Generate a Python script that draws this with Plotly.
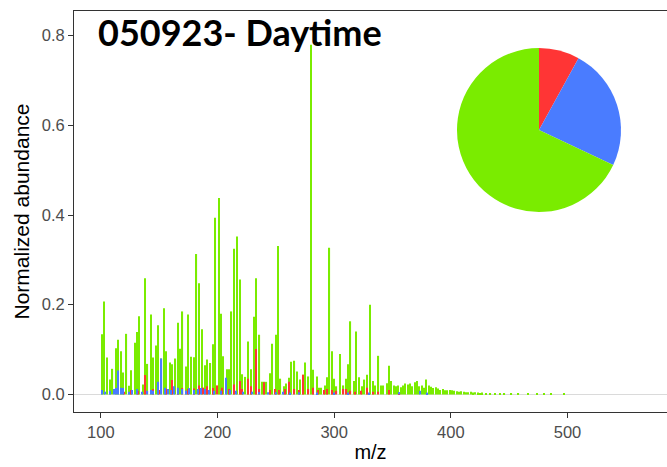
import plotly.graph_objects as go

# ---------------- data ----------------
mz_green = [101, 103, 105, 108, 110, 113, 115, 117, 119, 122, 124, 126, 129, 131, 133, 136, 138, 140,
            143, 145, 147, 149, 152, 154, 156, 159, 161, 164, 166, 168, 170, 173, 175, 177, 180, 182,
            184, 187, 189, 191, 194, 196, 198, 201, 203, 205, 208, 210, 212, 214, 217, 219, 221, 224,
            226, 229, 231, 233, 236, 238, 240, 242, 245, 247, 250, 252, 254, 257, 259, 261, 263, 266,
            268, 271, 273, 275, 278, 280, 282, 285, 287, 289, 292, 294, 296, 298, 300, 302, 305, 308,
            310, 312, 314, 317, 319, 321, 324, 326, 328, 331, 333, 335, 338, 340, 342, 345, 347, 349,
            351, 353, 355, 357, 359, 361, 363, 365, 367, 369, 371, 373, 375, 377, 379, 381, 383, 385,
            387, 389, 391, 393, 395, 397, 399, 401, 403, 405, 407, 409, 411, 413, 415, 417, 419, 421,
            423, 425, 427, 430, 434, 438, 442, 446, 452, 458, 466, 474, 480, 486, 497]
ab_green = [0.134, 0.207, 0.082, 0.033, 0.057, 0.103, 0.122, 0.096, 0.049, 0.135, 0.019, 0.054, 0.115,
            0.139, 0.174, 0.022, 0.259, 0.068, 0.178, 0.082, 0.109, 0.154, 0.080, 0.192, 0.096, 0.071,
            0.067, 0.080, 0.160, 0.102, 0.185, 0.062, 0.178, 0.084, 0.083, 0.313, 0.248, 0.145, 0.065,
            0.078, 0.070, 0.112, 0.394, 0.438, 0.180, 0.085, 0.056, 0.056, 0.185, 0.325, 0.352, 0.256,
            0.045, 0.039, 0.118, 0.056, 0.173, 0.259, 0.133, 0.028, 0.028, 0.028, 0.047, 0.113, 0.133,
            0.331, 0.035, 0.018, 0.024, 0.037, 0.073, 0.075, 0.051, 0.033, 0.044, 0.071, 0.040, 0.780,
            0.055, 0.040, 0.015, 0.015, 0.020, 0.038, 0.327, 0.096, 0.035, 0.018, 0.090, 0.020, 0.035,
            0.067, 0.163, 0.030, 0.140, 0.038, 0.018, 0.033, 0.044, 0.200, 0.030, 0.020, 0.086, 0.020,
            0.020, 0.025, 0.064, 0.030, 0.020, 0.018, 0.020, 0.016, 0.020, 0.024, 0.022, 0.024, 0.018,
            0.027, 0.030, 0.018, 0.020, 0.015, 0.033, 0.020, 0.017, 0.014, 0.016, 0.013, 0.010, 0.012,
            0.009, 0.009, 0.010, 0.009, 0.008, 0.007, 0.006, 0.007, 0.006, 0.005, 0.005, 0.006, 0.004,
            0.005, 0.004, 0.003, 0.004, 0.003, 0.003, 0.003, 0.002, 0.003, 0.002, 0.002, 0.002, 0.002,
            0.002, 0.002, 0.003, 0.002, 0.003]

mz_red = [120, 126, 132, 138, 145, 150, 156, 161, 166, 170, 175, 180, 184, 188, 191, 196, 200, 204,
          210, 214, 219, 221, 226, 229, 233, 236, 240, 245, 249, 253, 258, 261, 266, 270, 273, 278,
          282, 286, 291, 294, 298, 302, 308, 310, 314, 318, 323, 328, 333, 338, 347, 356]
ab_red = [0.006, 0.010, 0.008, 0.043, 0.012, 0.010, 0.012, 0.032, 0.010, 0.014, 0.012, 0.013, 0.020,
          0.015, 0.018, 0.014, 0.020, 0.015, 0.012, 0.022, 0.030, 0.012, 0.035, 0.018, 0.101, 0.012,
          0.027, 0.010, 0.012, 0.010, 0.012, 0.028, 0.012, 0.010, 0.044, 0.012, 0.015, 0.010, 0.010,
          0.012, 0.010, 0.008, 0.012, 0.012, 0.008, 0.006, 0.008, 0.015, 0.006, 0.006, 0.010, 0.004]

mz_blue = [101, 104, 108, 111, 113, 115, 117, 119, 124, 127, 131, 135, 140, 143, 145, 149, 152, 155,
           158, 160, 163, 166, 170, 173, 176, 180, 183, 186, 189, 193, 197, 203, 207, 211, 216, 222,
           230, 236, 243, 250, 256, 262, 270, 285, 300, 312, 330, 356, 374, 380]
ab_blue = [0.010, 0.006, 0.008, 0.012, 0.014, 0.053, 0.015, 0.014, 0.006, 0.010, 0.012, 0.006, 0.008,
           0.010, 0.008, 0.028, 0.080, 0.015, 0.012, 0.010, 0.018, 0.015, 0.012, 0.008, 0.014, 0.010,
           0.012, 0.014, 0.012, 0.010, 0.008, 0.008, 0.037, 0.010, 0.008, 0.006, 0.006, 0.005, 0.005,
           0.005, 0.006, 0.004, 0.005, 0.004, 0.004, 0.004, 0.004, 0.005, 0.008, 0.004]

pie_labels = ["red", "blue", "green"]
pie_values = [8, 24, 68]

title_text = "050923- Daytime"
x_ticks = [100, 200, 300, 400, 500]
y_ticks = [0.0, 0.2, 0.4, 0.6, 0.8]

GREEN = "#7AEC00"
RED = "#FF3535"
BLUE = "#4A7CFF"

# ---------------- figure ----------------
fig = go.Figure()
fig.add_trace(go.Bar(x=mz_green, y=ab_green, width=1.0, marker=dict(color=GREEN, line=dict(width=0)),
                     showlegend=False))
fig.add_trace(go.Bar(x=mz_red, y=ab_red, width=1.0, marker=dict(color=RED, line=dict(width=0)),
                     showlegend=False))
fig.add_trace(go.Bar(x=mz_blue, y=ab_blue, width=1.0, marker=dict(color=BLUE, line=dict(width=0)),
                     showlegend=False))

L, R, T, B = 74, 0, 11, 55
W, H = 667, 467
pw, ph = W - L - R, H - T - B
# pie box in pixels
px0, px1, py0, py1 = 457, 621, 48, 212
fig.add_trace(go.Pie(labels=pie_labels, values=pie_values, sort=False, direction="clockwise",
                     rotation=0, textinfo="none", hoverinfo="label+percent",
                     marker=dict(colors=[RED, BLUE, GREEN], line=dict(width=0)),
                     domain=dict(x=[(px0 - L) / pw, (px1 - L) / pw],
                                 y=[(H - B - py1) / ph, (H - B - py0) / ph]),
                     showlegend=False))

FONT = "Liberation Sans, Arial, sans-serif"
fig.update_layout(
    template="none",
    width=W, height=H,
    margin=dict(l=L, r=R, t=T, b=B, pad=0, autoexpand=False),
    paper_bgcolor="white", plot_bgcolor="white",
    barmode="overlay",
    font=dict(family=FONT),
    xaxis=dict(range=[77.0, 585.3], tickvals=x_ticks, ticks="outside", ticklen=5, tickwidth=1,
               tickcolor="#333333", showline=True, linecolor="#333333", linewidth=1, mirror=True,
               showgrid=False, zeroline=False, automargin=False,
               tickfont=dict(family=FONT, size=16.5, color="#4D4D4D"),
               title=dict(text="m/z", font=dict(family=FONT, size=20, color="black"), standoff=5)),
    yaxis=dict(range=[-0.0393, 0.855], tickvals=y_ticks, tickformat=".1f", ticks="outside", ticklen=5,
               tickwidth=1, tickcolor="#333333", showline=True, linecolor="#333333", linewidth=1,
               showgrid=False, zeroline=True, zerolinecolor="#DADADA", zerolinewidth=1, automargin=False,
               tickfont=dict(family=FONT, size=16.5, color="#4D4D4D"),
               title=dict(text="Normalized abundance", font=dict(family=FONT, size=21, color="black"),
                          standoff=6)),
    annotations=[dict(text="<b>" + title_text + "</b>", xref="paper", yref="paper",
                      x=(96 - L) / pw, y=(H - B - 32) / ph, xanchor="left", yanchor="middle",
                      showarrow=False, font=dict(family="Lato", size=36, color="black"))],
)

fig.write_html("out.html", config={"displayModeBar": False},
               post_script="document.body.style.margin='0px';")
